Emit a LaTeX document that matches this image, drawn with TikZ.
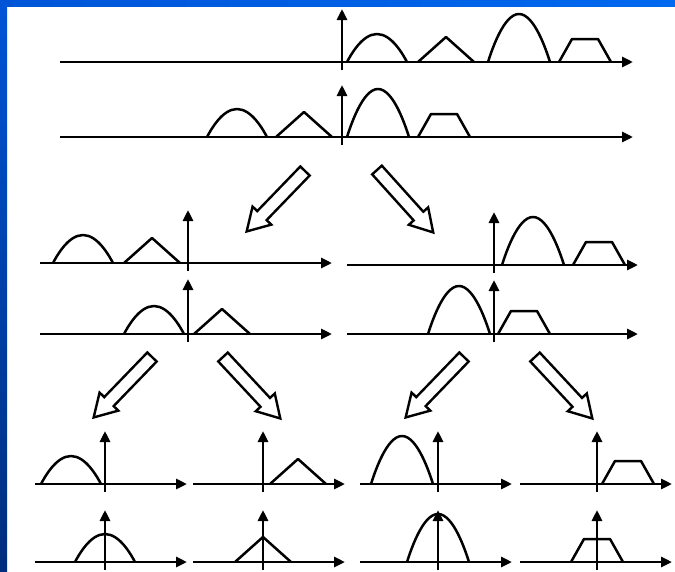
\documentclass[tikz,border=0pt]{standalone}
\usetikzlibrary{arrows.meta}
\definecolor{SlideBlue}{RGB}{0,105,240}
\definecolor{SlideBlueMid}{RGB}{0,85,215}
\definecolor{SlideBlueDark}{RGB}{0,45,125}
\tikzset{
  ax/.style={line width=2.9pt,-{Triangle[length=11pt,width=10pt]}},
  sig/.style={line width=2.5pt,line join=round},
  blkarr/.style={draw,line width=2.4pt,fill=white,line join=miter},
  hump/.pic={\draw[sig] (0,0) parabola bend (30,-28) (60,0);},
  tallhump/.pic={\draw[sig] (0,0) parabola bend (31,-48) (62,0);},
  tri/.pic={\draw[sig] (0,0) -- (28,-25) -- (56,0);},
  trap/.pic={\draw[sig] (0,0) -- (13,-23) -- (39,-23) -- (52,0);},
  blk/.pic={\draw[blkarr] (0,6.5) -- (62,6.5) -- (62,13) -- (84,0) -- (62,-13) -- (62,-6.5) -- (0,-6.5) -- cycle;},
}
% #1 left end, #2 right end, #3 origin x, #4 baseline y, #5 tip of vertical axis
\newcommand{\sigaxes}[5]{%
  \draw[ax] (#1,#4) -- (#2,#4);
  \draw[ax] (#3,#4+8) -- (#3,#5);}

\begin{document}
\begin{tikzpicture}[x=1pt,y=-1pt]
\useasboundingbox (0,0) rectangle (675,571);
\shade[top color=SlideBlueMid,bottom color=SlideBlueDark] (0,0) rectangle (7,571);
\shade[left color=SlideBlueMid,right color=SlideBlue] (0,0) rectangle (675,6);

% full spectrum
\sigaxes{60}{633}{342}{62}{9}
\pic at (347,62) {hump};
\pic at (418,62) {tri};
\pic at (488,62) {tallhump};
\pic at (559,62) {trap};

\sigaxes{60}{633}{342}{137}{85}
\pic at (207,137) {hump};
\pic at (276,137) {tri};
\pic at (347,137) {tallhump};
\pic at (418,137) {trap};

\pic[rotate=226] at (305,171) {blk};
\pic[rotate=-48] at (377,170) {blk};

% first split
\sigaxes{40}{332}{188}{263}{210}
\pic at (53,263) {hump};
\pic at (124,263) {tri};

\sigaxes{40}{332}{188}{334}{279}
\pic at (124,334) {hump};
\pic at (194,334) {tri};

\sigaxes{347}{638}{494}{265}{212}
\pic at (502,265) {tallhump};
\pic at (573,265) {trap};

\sigaxes{347}{638}{494}{334}{280}
\pic at (428,334) {tallhump};
\pic at (498,334) {trap};

\pic[rotate=226] at (152,357) {blk};
\pic[rotate=-47] at (223,357) {blk};
\pic[rotate=226] at (464,357) {blk};
\pic[rotate=-47] at (535,357) {blk};

% second split
\sigaxes{35}{187}{105}{484}{431}
\pic at (41,484) {hump};
\sigaxes{193}{345}{263}{484}{431}
\pic at (270,484) {tri};
\sigaxes{360}{512}{438}{484}{431}
\pic at (371,484) {tallhump};
\sigaxes{520}{672}{597}{484}{431}
\pic at (602,484) {trap};

\sigaxes{35}{187}{105}{562}{510}
\pic at (75,562) {hump};
\sigaxes{193}{345}{263}{562}{510}
\pic at (235,562) {tri};
\sigaxes{360}{512}{438}{562}{510}
\pic at (407,562) {tallhump};
\sigaxes{520}{672}{597}{562}{510}
\pic at (571,562) {trap};
\end{tikzpicture}
\end{document}
